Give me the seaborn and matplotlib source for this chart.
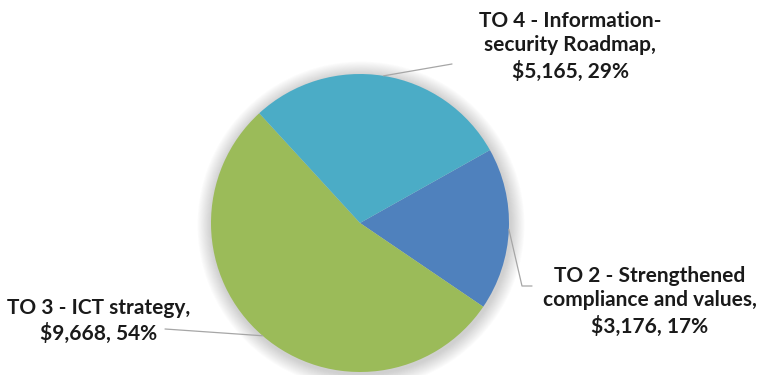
import numpy as np
import matplotlib
matplotlib.use("Agg")
import matplotlib.pyplot as plt
import seaborn as sns

# Budget split by task order
categories = ["TO 2 - Strengthened\ncompliance and values",
              "TO 3 - ICT strategy",
              "TO 4 - Information-\nsecurity Roadmap"]
amounts = [3176, 9668, 5165]
percent_labels = [17, 54, 29]
colors = ["#4F81BD", "#9BBB59", "#4BACC6"]

sns.set_theme(style="white")
plt.rcParams["font.family"] = ["Lato", "DejaVu Sans"]

W, H = 758, 375
fig = plt.figure(figsize=(W / 100, H / 100), dpi=100)
ax = fig.add_axes([0, 0, 1, 1])

cx, cy, r = 360, H - 223, 149

# soft drop shadow behind the pie
for k in range(16, 0, -1):
    ax.add_patch(plt.Circle((cx + 1, cy - 2), r + k * 0.9, color="#7f7f7f",
                            alpha=0.022, lw=0, zorder=0))

wedges, _ = ax.pie(amounts, colors=colors, startangle=29.3, counterclock=False,
                   center=(cx, cy), radius=r, frame=True,
                   wedgeprops=dict(linewidth=0, zorder=2))
ax.set_xlim(0, W)
ax.set_ylim(0, H)
ax.set_aspect("equal")
ax.axis("off")

labels = [f"{c},\n${v:,}, {p}%" for c, v, p in zip(categories, amounts, percent_labels)]

# label block centre and leader line path (after the wedge anchor)
text_pos = [(650, H - 301), (99, H - 321), (570, H - 46)]
leader_paths = [[(522, H - 286), (532, H - 286)],
                [(165, H - 329)],
                [(452, H - 64)]]

for w, lab, tp, path in zip(wedges, labels, text_pos, leader_paths):
    mid = np.deg2rad((w.theta1 + w.theta2) / 2)
    ax_pt = (cx + r * np.cos(mid), cy + r * np.sin(mid))
    xs = [ax_pt[0]] + [p[0] for p in path]
    ys = [ax_pt[1]] + [p[1] for p in path]
    ax.plot(xs, ys, color="#a6a6a6", lw=0.9, zorder=3)
    ax.text(tp[0], tp[1], lab, ha="center", va="center", fontsize=15,
            fontweight="bold", color="#1a1a1a", linespacing=1.3, zorder=4)

fig.savefig("out.png", dpi=100, facecolor="white")
